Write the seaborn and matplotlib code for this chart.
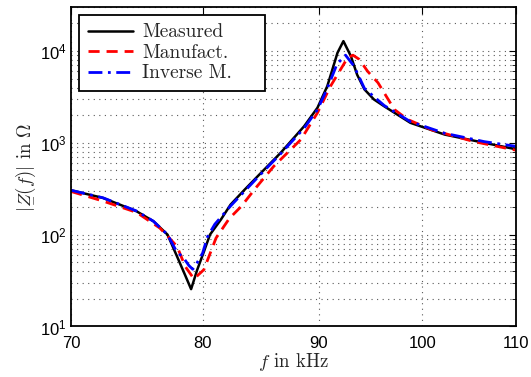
import matplotlib
matplotlib.use("Agg")
import matplotlib.pyplot as plt
import pandas as pd
import seaborn as sns
from matplotlib.ticker import LogLocator, NullFormatter, NullLocator

# Values (frequency in kHz, |Z| in Ohm)
freq_meas = [70, 72.3, 74.8, 76.1, 77.2, 77.9, 78.6, 79.07, 79.55, 80.1,
             80.6, 81.5, 82.3, 83.5, 84.6, 86.6, 88.7, 89.9, 90.8, 91.75,
             92.3, 93.0, 93.6, 94.3, 95.2, 96.2, 98.8, 102.3, 106.5, 110]
z_meas = [304, 251, 180, 140, 100, 60, 36, 25.5, 41, 65,
          100, 146, 212, 310, 432, 778, 1520, 2410, 4140, 9580,
          12800, 8800, 5500, 3810, 2970, 2500, 1650, 1230, 1000, 850]

freq_manu = [70, 72.3, 74.8, 76.6, 77.95, 78.6, 79.3, 80.1, 81.1, 82.2,
             83.2, 84.5, 86.0, 88.4, 89.9, 91.1, 92.7, 93.2, 93.8, 94.6,
             95.6, 97.2, 98.5, 101.0, 105.4, 110]
z_manu = [295, 232, 175, 118, 74.5, 45, 33, 41.5, 92, 150,
          203, 330, 556, 1087, 2124, 4140, 8450, 9000, 8100, 6000,
          4510, 2307, 1800, 1380, 1030, 830]

freq_inv = [70, 72.3, 74.8, 76.1, 77.2, 77.9, 78.5, 78.9, 79.2, 79.5,
            80.0, 80.4, 81.0, 82.3, 84.6, 86.6, 88.7, 89.9, 90.8, 91.7,
            92.5, 93.3, 94.3, 96.2, 98.8, 102.3, 106.5, 110]
z_inv = [304, 252, 181, 140, 100, 66, 55, 46, 42, 48,
         63, 95, 130, 205, 420, 760, 1450, 2300, 3900, 7200,
         9000, 6840, 3900, 2550, 1700, 1270, 1030, 915]

x_ticks = [70, 80, 90, 100, 110]
y_ticks = [1e1, 1e2, 1e3, 1e4]


def main():
    sns.set_style("white")
    plt.rcParams["font.family"] = ["Liberation Sans", "DejaVu Sans"]
    plt.rcParams["mathtext.fontset"] = "cm"

    fig = plt.figure(figsize=(5.31, 3.77), dpi=100)
    ax = fig.add_axes([0.134, 0.134, 0.838, 0.847])

    meas = pd.DataFrame({"f": freq_meas, "Z": z_meas})
    manu = pd.DataFrame({"f": freq_manu, "Z": z_manu})
    inv = pd.DataFrame({"f": freq_inv, "Z": z_inv})

    sns.lineplot(data=meas, x="f", y="Z", ax=ax, color="black",
                 linewidth=1.8, label="Measured")
    sns.lineplot(data=manu, x="f", y="Z", ax=ax, color="red",
                 linewidth=2.0, linestyle=(0, (4, 2.5)), label="Manufact.")
    sns.lineplot(data=inv, x="f", y="Z", ax=ax, color="blue",
                 linewidth=2.0, linestyle=(0, (5, 2, 1, 2)),
                 label="Inverse M.")

    ax.set_xscale("log")
    ax.set_yscale("log")
    ax.set_xlim(70, 110)
    ax.set_ylim(10, 3e4)
    ax.set_xticks(x_ticks, [str(t) for t in x_ticks])
    ax.xaxis.set_minor_locator(NullLocator())
    ax.set_yticks(y_ticks)
    ax.yaxis.set_minor_locator(LogLocator(base=10, subs=range(2, 10)))
    ax.yaxis.set_minor_formatter(NullFormatter())

    # sparse MATLAB-like dotted grid
    grid_style = dict(linestyle=(0, (1, 4)), color="0.35", linewidth=0.8)
    ax.grid(True, which="major", axis="both", **grid_style)
    ax.grid(True, which="minor", axis="y", **grid_style)
    ax.tick_params(which="both", direction="in", top=True, right=True,
                   labelsize=12, colors="black")
    ax.tick_params(which="major", length=5, width=0.8)
    ax.tick_params(which="minor", length=3, width=0.6)
    ax.tick_params(axis="x", which="major", pad=7)
    for spine in ax.spines.values():
        spine.set_color("black")
        spine.set_linewidth(1.3)

    ax.set_xlabel(r"$f$ in kHz", fontfamily="cmr10", fontsize=13.5,
                  labelpad=0)
    ax.set_ylabel(r"$|\underset{-}{Z}(f)|$ in $\Omega$",
                  fontfamily="cmr10", fontsize=13.5, labelpad=2)

    # wide legend box like the MATLAB original
    leg = ax.legend(loc="upper left", bbox_to_anchor=(0.018, 0.5, 0.418, 0.476),
                    mode="expand", prop={"family": "cmr10", "size": 14},
                    fancybox=False, framealpha=1, edgecolor="black",
                    handlelength=2.3, borderaxespad=0, labelspacing=0.13,
                    handletextpad=0.5, borderpad=0.45)
    leg.get_frame().set_linewidth(1.3)

    fig.savefig("out.png", dpi=100)


if __name__ == "__main__":
    main()
